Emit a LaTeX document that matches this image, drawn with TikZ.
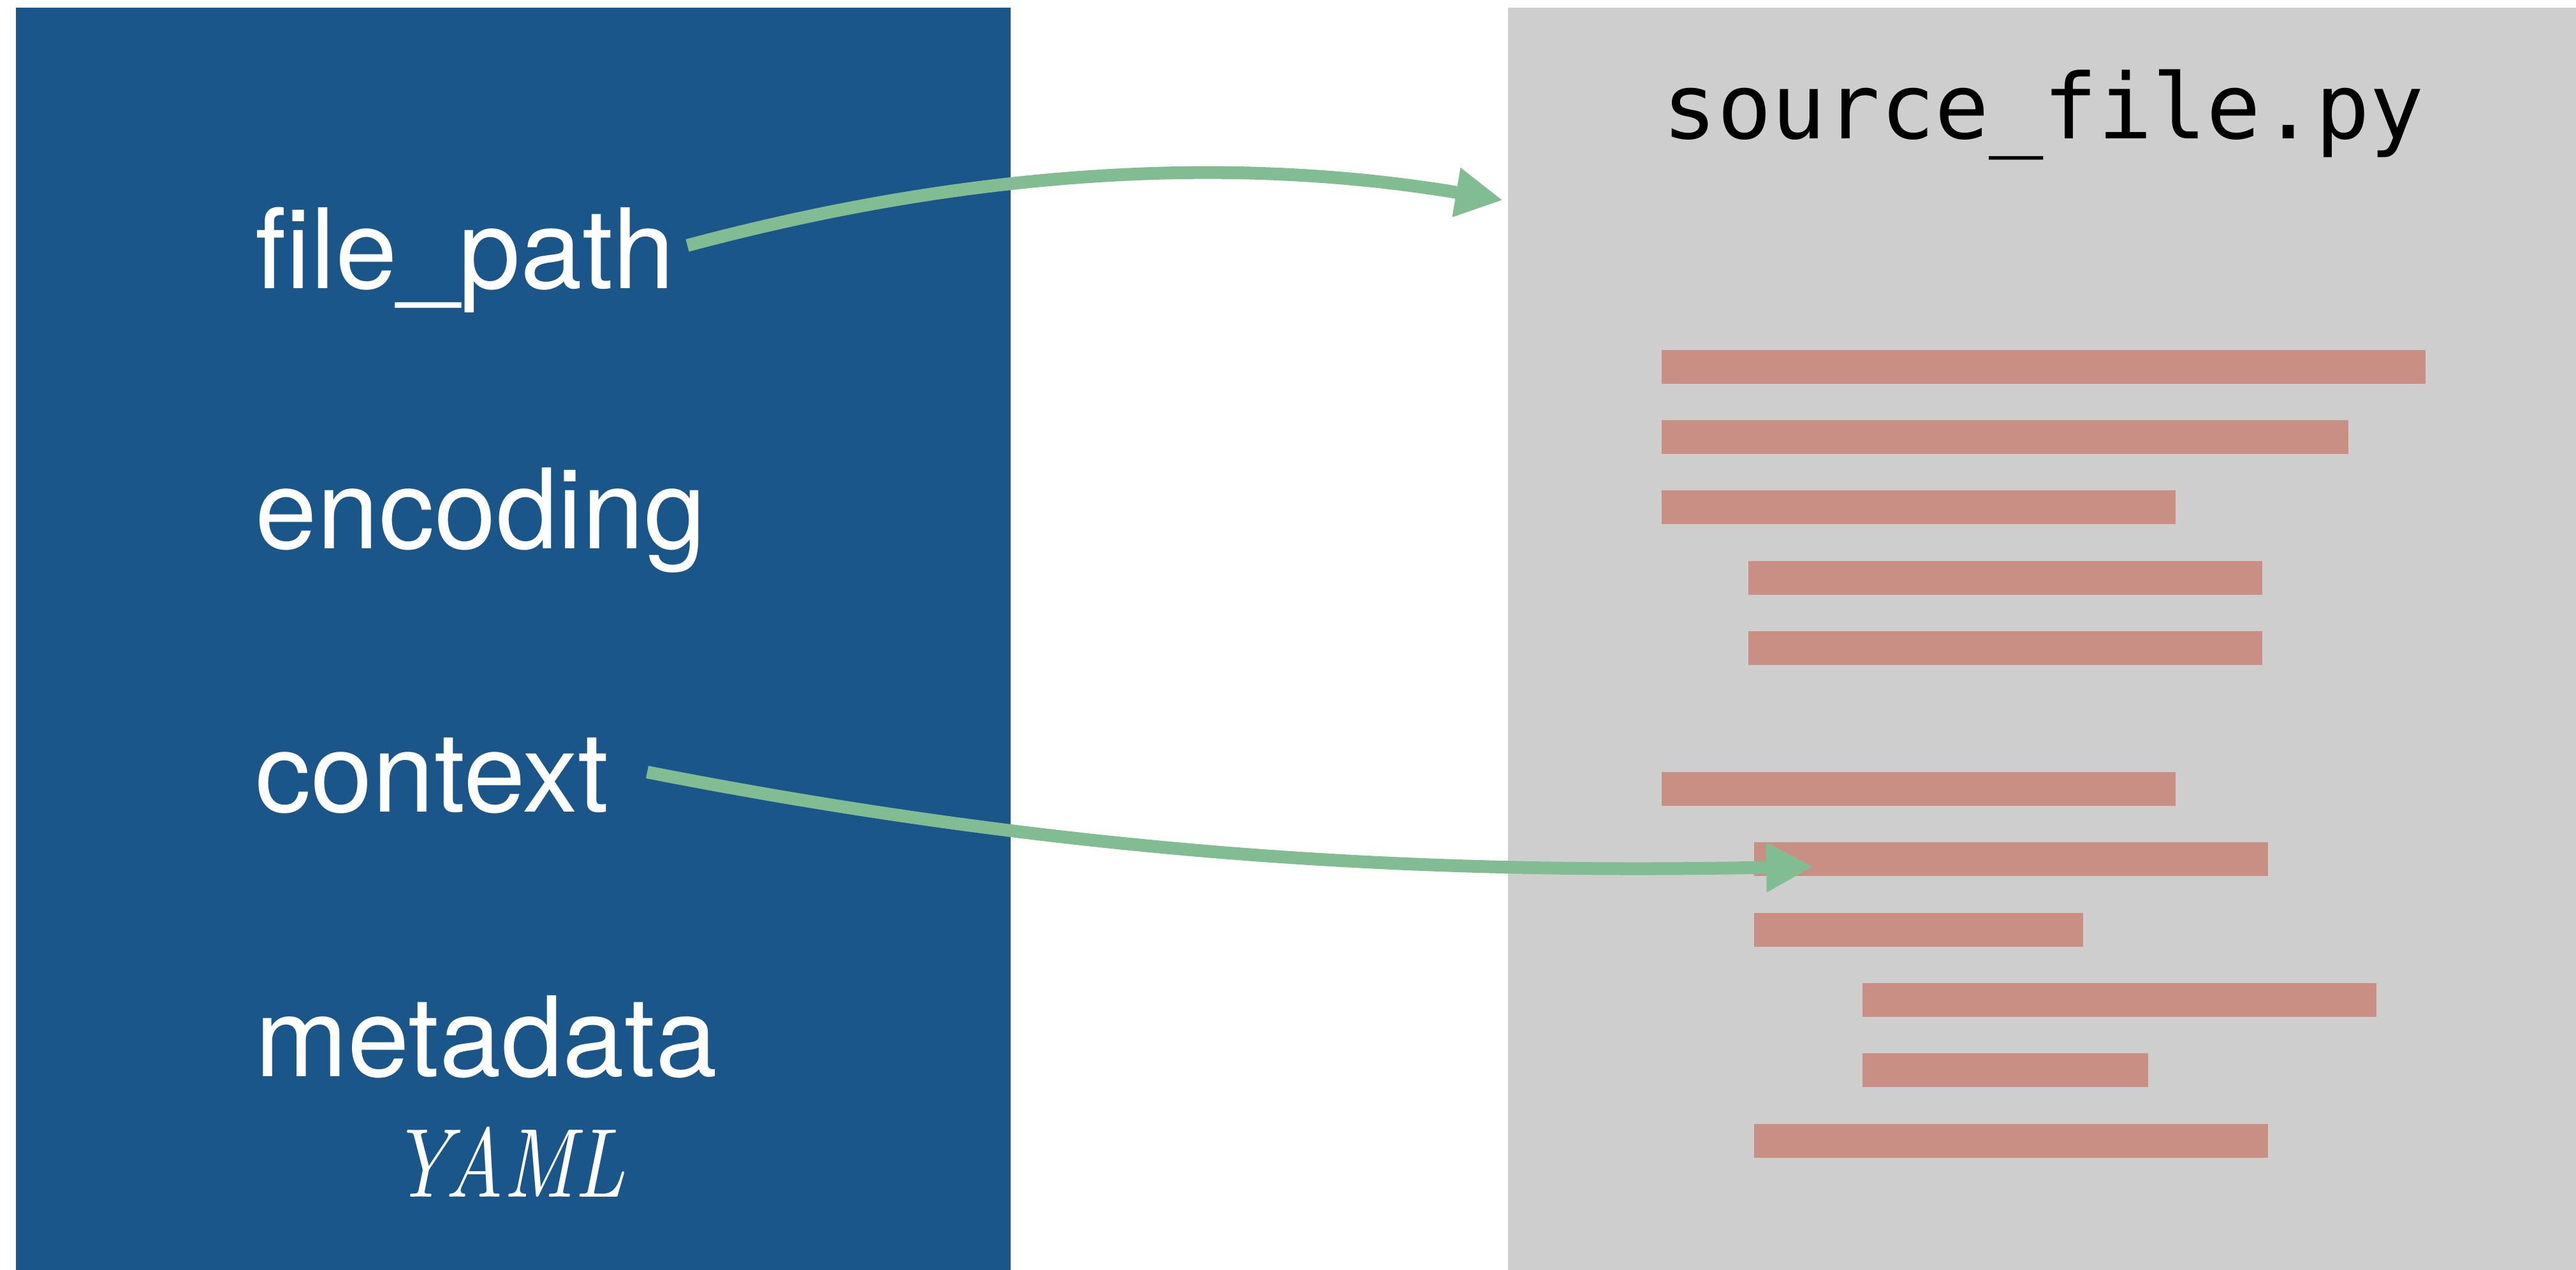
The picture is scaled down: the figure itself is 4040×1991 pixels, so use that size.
\documentclass[tikz,border=0pt]{standalone}
\usepackage{fontspec}
\usepackage{graphicx}
\newfontfamily\labelfont{TeX Gyre Heros}
\newfontfamily\codefont{DejaVu Sans Mono}
\usetikzlibrary{arrows.meta}

\definecolor{panelblue}{HTML}{1A568A}
\definecolor{panelgrey}{HTML}{CECECE}
\definecolor{codebar}{HTML}{C98F84}
\definecolor{linkgreen}{HTML}{82BC93}

\begin{document}
\begin{tikzpicture}[x=0.01cm, y=-0.01cm,
  panel/.style={inner sep=0pt, outer sep=0pt, draw=none, anchor=north west},
  field/.style={anchor=base west, inner sep=0pt, text=white,
                font=\labelfont\fontsize{49.5}{60}\selectfont},
  codeline/.style={fill=codebar},
  link/.style={draw=linkgreen, line width=0.2cm,
               -{Triangle[length=0.74cm, width=0.73cm]}}]

% canvas
\useasboundingbox (0,0) rectangle (4040,1991);
\fill[white] (0,0) rectangle (4040,1991);

% the two panels
\node[panel, fill=panelblue, minimum width=15.59cm, minimum height=19.79cm]
  (yamlpanel) at (25,12) {};
\node[panel, fill=panelgrey, minimum width=16.75cm, minimum height=19.79cm]
  (srcpanel) at (2365,12) {};

% YAML fields
\node[field] (fp)  at (400,452)  {file\_path};
\node[field] (enc) at (400,860)  {encoding};
\node[field] (ctx) at (400,1273) {context};
\node[field] (meta) at (400,1688) {metadata};
\node[anchor=base, inner sep=0pt, text=white] (yaml) at (797,1877)
  {\resizebox{3.66cm}{1.1cm}{\itshape YAML}};

% source file title
\node[anchor=base, inner sep=0pt, text=black,
      font=\codefont\fontsize{40.3}{48}\selectfont] (title) at (3205,217)
  {source\_file.py};

% code lines
\foreach \xa/\xb/\ya in {2606/3804/549, 2606/3683/659, 2606/3412/769,
                         2742/3548/880, 2742/3548/990,
                         2606/3412/1211, 2751/3557/1321, 2751/3267/1432,
                         2921/3727/1542, 2921/3369/1652, 2751/3557/1763}
  \fill[codeline] (\xa,\ya) rectangle (\xb,\ya+53);

% connectors
\coordinate (fpout)  at (1078,385);
\coordinate (srcin)  at (2357,314);
\coordinate (ctxout) at (1015,1211);
\coordinate (ctxin)  at (2844,1359);

\draw[link] (fpout) .. controls (1561,256) and (1963,248) .. (srcin);
\draw[link] (ctxout) .. controls (1700,1345) and (2244,1371) .. (ctxin);
\end{tikzpicture}
\end{document}
